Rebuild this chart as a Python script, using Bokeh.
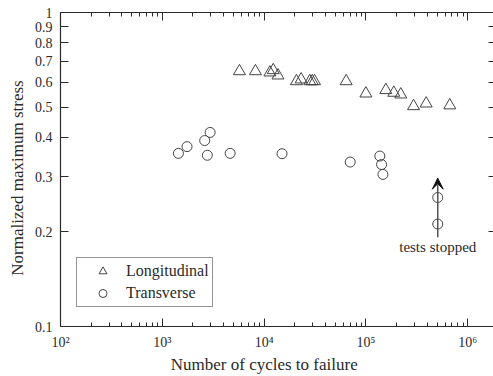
import math
from bokeh.plotting import figure
from bokeh.models import (Range1d, LogAxis, FixedTicker, NumeralTickFormatter,
                          Label, Arrow, VeeHead, Legend, LegendItem)
from bokeh.embed import file_html
from bokeh.resources import INLINE

# ---- data ----
long_x = [5730, 8220, 11400, 12300, 13700, 20800, 23100, 28100, 29700, 31300,
          64000, 100000, 157000, 188000, 220000, 294000, 391000, 667000]
long_y = [0.65, 0.65, 0.644, 0.655, 0.63, 0.604, 0.612, 0.604, 0.604, 0.604,
          0.604, 0.552, 0.566, 0.555, 0.548, 0.503, 0.513, 0.506]

trans_x = [1440, 1750, 2610, 2950, 2770, 4640, 15000, 70100, 137000, 142600,
           147000, 508000, 508000]
trans_y = [0.356, 0.374, 0.391, 0.415, 0.351, 0.356, 0.355, 0.334, 0.349, 0.328,
           0.305, 0.2575, 0.212]

x_ticks = [100, 1000, 10000, 100000, 1000000]
x_tick_labels = ["10\u00b2", "10\u00b3", "10\u2074", "10\u2075", "10\u2076"]
x_minor = [m * d for d in [100, 1000, 10000, 100000, 1000000] for m in range(2, 10)]
y_ticks = [0.1, 0.2, 0.3, 0.4, 0.5, 0.6, 0.7, 0.8, 0.9, 1.0]

x_label = "Number of cycles to failure"
y_label = "Normalized maximum stress"

stopped_x = 508000
arrow_y0, arrow_y1 = 0.1925, 0.2967
note_y = 0.179

FONT = "Liberation Serif"
INK = "#2a2a2a"
MARK = "#444444"
NBSP = "\u00a0"

p = figure(width=493, height=376, x_axis_type="log", y_axis_type="log",
           x_range=Range1d(100, 10 ** 6.2535), y_range=Range1d(0.1, 1.0),
           output_backend="svg", toolbar_location=None,
           min_border_left=60, min_border_right=0, min_border_top=12,
           min_border_bottom=50)
p.outline_line_color = None
p.grid.visible = False
p.background_fill_color = "white"
p.border_fill_color = "white"

xt = FixedTicker(ticks=x_ticks, minor_ticks=x_minor)
yt = FixedTicker(ticks=y_ticks, minor_ticks=[])

def style(ax):
    ax.axis_line_color = INK
    ax.axis_line_width = 1.2
    ax.major_tick_line_color = INK
    ax.minor_tick_line_color = INK
    ax.major_tick_out = 0
    ax.minor_tick_out = 0
    ax.major_label_text_font = FONT
    ax.major_label_text_color = INK
    ax.major_label_text_font_size = "14px"
    ax.axis_label_text_font = FONT
    ax.axis_label_text_font_style = "normal"
    ax.axis_label_text_color = INK
    ax.axis_label_text_font_size = "17px"

xa = p.xaxis[0]
xa.ticker = xt
style(xa)
xa.major_tick_in = 8
xa.minor_tick_in = 4
xa.major_label_standoff = 8
xa.major_label_overrides = dict(zip(x_ticks, x_tick_labels))
xa.axis_label = x_label + NBSP * 6
xa.axis_label_standoff = 2

ya = p.yaxis[0]
ya.ticker = yt
style(ya)
ya.major_tick_in = 8
ya.major_label_standoff = 8
ya.formatter = NumeralTickFormatter(format="0.[0]")
ya.axis_label = y_label + NBSP * 4
ya.axis_label_standoff = 5

top = LogAxis(ticker=xt)
style(top)
top.major_tick_in = 8
top.minor_tick_in = 4
top.major_label_text_font_size = "1px"
top.major_label_text_alpha = 0
top.major_label_standoff = 0
p.add_layout(top, "above")

right = LogAxis(ticker=yt)
style(right)
right.axis_line_alpha = 0
right.major_tick_in = 5
right.major_label_text_font_size = "1px"
right.major_label_text_alpha = 0
right.major_label_standoff = 0
p.add_layout(right, "right")

r_long = p.scatter(long_x, long_y, marker="triangle", size=12,
                   fill_color=None, line_color=MARK, line_width=1)
r_trans = p.scatter(trans_x, trans_y, marker="circle", size=10,
                    fill_color=None, line_color=MARK, line_width=1)

p.add_layout(Arrow(end=VeeHead(size=11, fill_color="#111111", line_color="#111111"),
                   x_start=stopped_x, y_start=arrow_y0,
                   x_end=stopped_x, y_end=arrow_y1,
                   line_color="#555555", line_width=1.5))
p.add_layout(Label(x=stopped_x, y=note_y, text="tests stopped",
                   text_font=FONT, text_font_size="15px", text_color=INK,
                   text_align="center", text_baseline="middle"))

legend = Legend(items=[LegendItem(label="Longitudinal", renderers=[r_long]),
                       LegendItem(label="Transverse", renderers=[r_trans])],
                location=(16, 19), padding=3, spacing=2,
                glyph_width=45, glyph_height=20, label_height=20,
                label_standoff=1, label_text_font=FONT,
                label_text_font_size="16px", label_text_color=INK,
                border_line_color=INK, border_line_width=1,
                background_fill_color="white", background_fill_alpha=1)
p.add_layout(legend, "center")

open("out.html", "w").write(file_html(p, INLINE))
